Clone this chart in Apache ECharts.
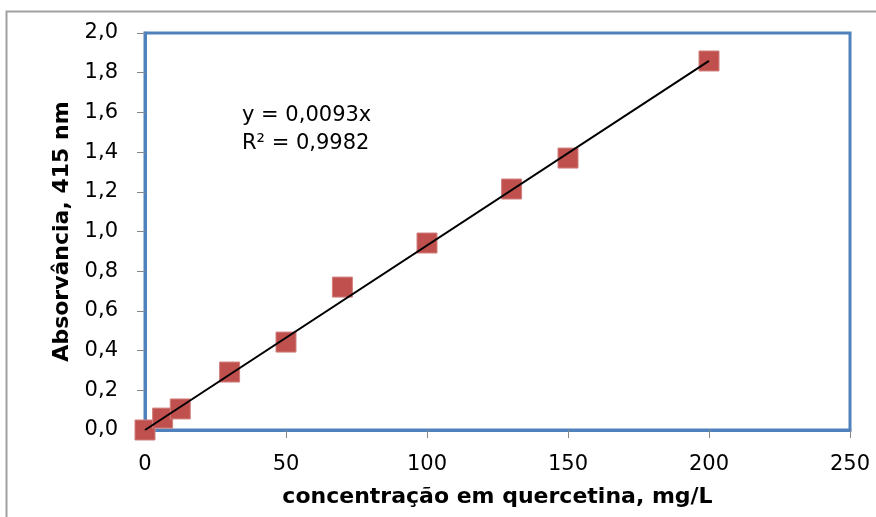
<!DOCTYPE html>
<html>
<head>
<meta charset="utf-8">
<script src="https://cdn.jsdelivr.net/npm/echarts@6/dist/echarts.min.js"></script>
<style>
  html, body { margin: 0; padding: 0; background: #fff; }
  #chart { width: 876px; height: 517px; }
</style>
</head>
<body>
<div id="chart"></div>
<script>
// Calibration curve: quercetin concentration (mg/L) vs absorbance at 415 nm
const concentrations = [0, 6.25, 12.5, 30, 50, 70, 100, 130, 150, 200];
const absorbances    = [0.0, 0.06, 0.106, 0.292, 0.443, 0.72, 0.942, 1.214, 1.37, 1.859];

// Linear fit through origin, as reported in the equation label
const slope = 0.0093;
const rSquared = 0.9982;
const fitRange = [0, 200];

const yTicks = [0, 0.2, 0.4, 0.6, 0.8, 1.0, 1.2, 1.4, 1.6, 1.8, 2.0];
const xTicks = [0, 50, 100, 150, 200, 250];

const fmt = v => v.toString().replace('.', ',');
const fmt1 = v => v.toFixed(1).replace('.', ',');

const points = concentrations.map((c, i) => [c, absorbances[i]]);
const fitLine = fitRange.map(x => [x, slope * x]);

const font = '"DejaVu Sans", sans-serif';
const chart = echarts.init(document.getElementById('chart'), null, { renderer: 'canvas' });

chart.setOption({
  animation: false,
  backgroundColor: '#ffffff',
  grid: {
    left: 145, top: 33, right: 26, bottom: 87,
    show: true,
    borderColor: '#4F81BD',
    borderWidth: 3,
    backgroundColor: 'transparent'
  },
  xAxis: {
    type: 'value',
    min: xTicks[0], max: xTicks[xTicks.length - 1], interval: 50,
    name: 'concentração em quercetina, mg/L',
    nameLocation: 'middle',
    nameGap: 56,
    nameTextStyle: { fontFamily: font, fontSize: 22, fontWeight: 'bold', color: '#000' },
    axisLine: { show: true, lineStyle: { color: '#4F81BD', width: 3 } },
    axisTick: { show: true, length: 8, inside: false, lineStyle: { color: '#868686', width: 1 } },
    axisLabel: { margin: 24, fontFamily: font, fontSize: 21, color: '#000', formatter: v => fmt(v) },
    splitLine: { show: false }
  },
  yAxis: {
    type: 'value',
    min: yTicks[0], max: yTicks[yTicks.length - 1], interval: 0.2,
    name: 'Absorvância, 415 nm',
    nameLocation: 'middle',
    nameGap: 71,
    nameRotate: 90,
    nameTextStyle: { fontFamily: font, fontSize: 22, fontWeight: 'bold', color: '#000' },
    axisLine: { show: true, lineStyle: { color: '#4F81BD', width: 3 } },
    axisTick: { show: true, length: 8, inside: false, lineStyle: { color: '#868686', width: 1 } },
    axisLabel: { margin: 27, fontFamily: font, fontSize: 21, color: '#000', formatter: v => fmt1(v) },
    splitLine: { show: false }
  },
  series: [
    {
      type: 'scatter',
      data: points,
      symbol: 'rect',
      symbolSize: 20,
      itemStyle: { color: '#C0504D', opacity: 1, borderColor: '#D0807E', borderWidth: 1 },
      z: 2
    },
    {
      type: 'line',
      data: fitLine,
      symbol: 'none',
      lineStyle: { color: '#000', width: 2 },
      z: 3
    }
  ],
  graphic: [
    {
      type: 'rect',
      shape: { x: 6.5, y: 11.5, width: 900, height: 600 },
      style: { fill: 'none', stroke: '#A0A0A0', lineWidth: 2 },
      silent: true
    },
    {
      type: 'text',
      left: 242, top: 102,
      style: {
        text: 'y = ' + fmt(slope) + 'x\nR² = ' + fmt(rSquared),
        font: '21px ' + font,
        fill: '#000',
        lineHeight: 28
      }
    }
  ]
});
</script>
</body>
</html>
